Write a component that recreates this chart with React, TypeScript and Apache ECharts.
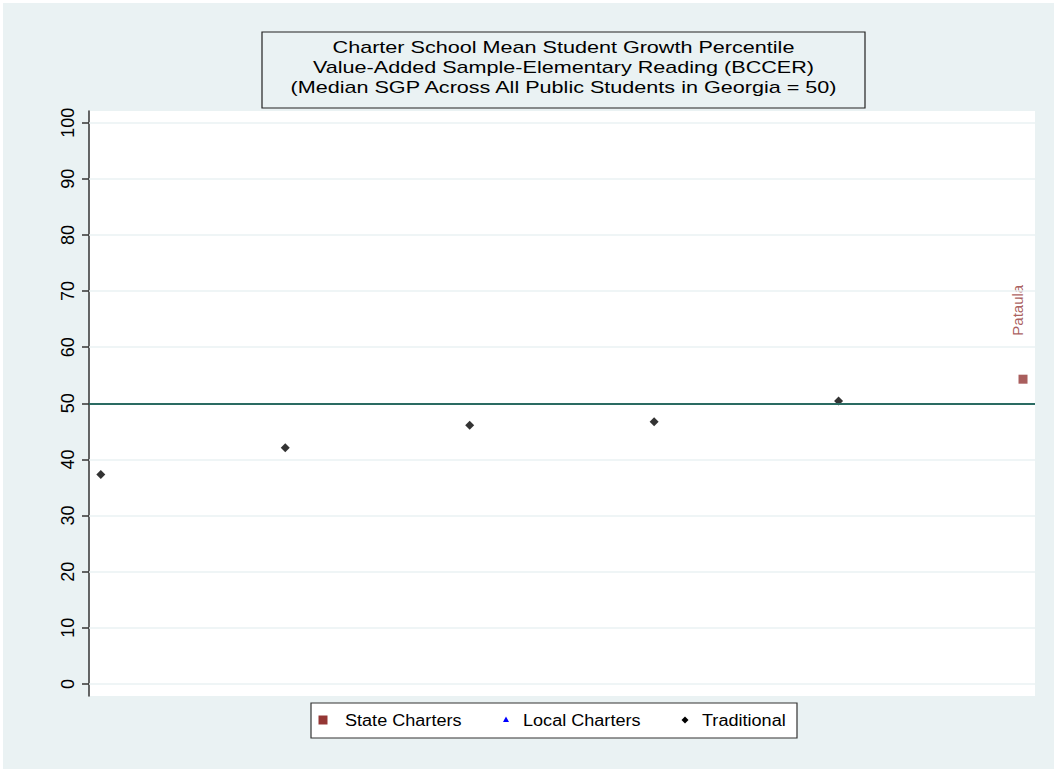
import React, { useEffect, useRef } from "react";
import * as echarts from "echarts";

// ---- data ----
const titleLines = [
  "Charter School Mean Student Growth Percentile",
  "Value-Added Sample-Elementary Reading (BCCER)",
  "(Median SGP Across All Public Students in Georgia = 50)",
];
const traditionalX = [1, 2, 3, 4, 5];
const traditionalY = [37.3, 42.1, 46.1, 46.7, 50.4];
const stateX = [6];
const stateY = [54.3];
const stateNames = ["Pataula"];
const localX: number[] = [];
const localY: number[] = [];
const yTicks = [0, 10, 20, 30, 40, 50, 60, 70, 80, 90, 100];
const medianSGP = 50;
const legendNames = ["State Charters", "Local Charters", "Traditional"];

const FONT = "'Liberation Sans', Arial, sans-serif";
const BG = "#EAF2F3";
const RED = "#943634";

export default function App() {
  const ref = useRef<HTMLDivElement>(null);
  useEffect(() => {
    document.body.style.margin = "0";
    const chart = echarts.init(ref.current!, null, { renderer: "svg" });
    const gridLeft = 89, gridRight = 19, gridTop = 111, gridBottom = 73;
    const W = 1054, H = 769;

    const graphic: any[] = [
      { type: "rect", z: -100, silent: true, shape: { x: 3, y: 3, width: W - 3, height: H - 3 }, style: { fill: BG } },
      { type: "rect", z: -99, silent: true, shape: { x: gridLeft, y: gridTop, width: W - gridLeft - gridRight, height: H - gridTop - gridBottom }, style: { fill: "#ffffff" } },
      { type: "rect", z: 10, shape: { x: 262, y: 32, width: 603, height: 76 }, style: { fill: BG, stroke: "#222", lineWidth: 1.2 } },
      ...titleLines.map((t, i) => ({
        type: "text", z: 11, x: 563.5, y: 46.5 + i * 20, scaleX: 1.27,
        style: { text: t, fill: "#000", font: `17px ${FONT}`, textAlign: "center", textVerticalAlign: "middle" },
      })),
      { type: "rect", z: 10, shape: { x: 311, y: 703, width: 486, height: 35 }, style: { fill: "#ffffff", stroke: "#333", lineWidth: 1.2 } },
      { type: "rect", z: 11, shape: { x: 318.5, y: 715.5, width: 9, height: 9 }, style: { fill: RED } },
      { type: "polygon", z: 11, shape: { points: [[506, 716.5], [509, 722], [503, 722]] }, style: { fill: "#0000FF" } },
      { type: "polygon", z: 11, shape: { points: [[685, 716.5], [688.5, 720], [685, 723.5], [681.5, 720]] }, style: { fill: "#000" } },
      ...legendNames.map((t, i) => ({
        type: "text", z: 11, x: [345, 523, 702][i], y: 720.5, scaleX: 1.13,
        style: { text: t, fill: "#000", font: `16px ${FONT}`, textAlign: "left", textVerticalAlign: "middle" },
      })),
    ];

    chart.setOption({
      animation: false,
      backgroundColor: "#ffffff",
      graphic,
      grid: { left: gridLeft, right: gridRight, top: gridTop, bottom: gridBottom, containLabel: false },
      xAxis: { type: "value", min: 0.936, max: 6.065, show: false, splitLine: { show: false } },
      yAxis: {
        type: "value",
        min: -2.14,
        max: 102.08,
        axisLine: { show: true, lineStyle: { color: "#333", width: 1.5 } },
        axisTick: { show: true, length: 7, customValues: yTicks, lineStyle: { color: "#333", width: 1.5 } },
        axisLabel: { customValues: yTicks, rotate: 90, margin: 12, fontSize: 18, color: "#000", fontFamily: FONT },
        splitLine: { show: false },
      },
      series: [
        {
          type: "line",
          data: [],
          z: 1,
          silent: true,
          markLine: {
            silent: true,
            symbol: "none",
            label: { show: false },
            animation: false,
            data: yTicks
              .filter((v) => v !== medianSGP)
              .map((v) => ({ yAxis: v, lineStyle: { color: BG, width: 1.5, type: "solid" } }))
              .concat([{ yAxis: medianSGP, lineStyle: { color: "#2A6B62", width: 2, type: "solid" } }]),
          },
        },
        {
          name: legendNames[0],
          type: "scatter",
          z: 3,
          symbol: "rect",
          symbolSize: 9,
          itemStyle: { color: RED },
          data: stateX.map((x, i) => ({ value: [x, stateY[i]], name: stateNames[i] })),
          label: {
            show: true,
            formatter: "{b}",
            position: "top",
            distance: 39,
            rotate: 90,
            align: "left",
            verticalAlign: "middle",
            offset: [0, -6],
            color: RED,
            fontSize: 15,
            fontFamily: FONT,
          },
        },
        {
          name: legendNames[1],
          type: "scatter",
          z: 3,
          symbol: "triangle",
          symbolSize: 6,
          itemStyle: { color: "#0000FF" },
          data: localX.map((x, i) => [x, localY[i]]),
        },
        {
          name: legendNames[2],
          type: "scatter",
          z: 3,
          symbol: "diamond",
          symbolSize: 9,
          itemStyle: { color: "#000" },
          data: traditionalX.map((x, i) => [x, traditionalY[i]]),
        },
      ],
    });
    return () => chart.dispose();
  }, []);
  return <div ref={ref} style={{ width: 1054, height: 769 }} />;
}
